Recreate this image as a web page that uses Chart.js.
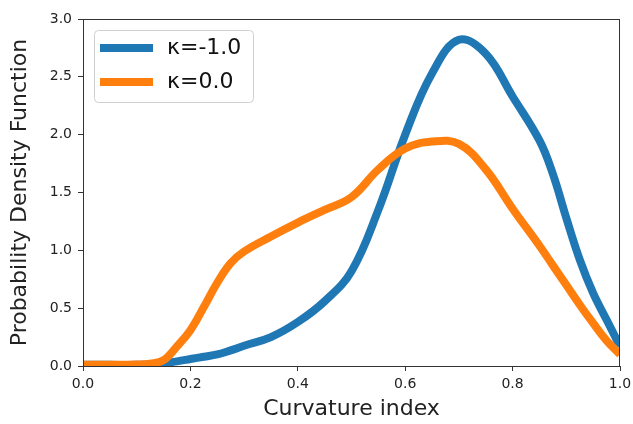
<!DOCTYPE html>
<html>
<head>
<meta charset="utf-8">
<script src="https://cdn.jsdelivr.net/npm/chart.js@4"></script>
<style>
  body { margin: 0; background: #fff; }
</style>
</head>
<body>
<canvas id="pdfChart" width="633" height="424"></canvas>
<script>
// curvature index samples
const curvatureIndex = [0, 0.05, 0.1, 0.125, 0.15, 0.175, 0.2, 0.225, 0.25, 0.275, 0.3, 0.35, 0.4, 0.45, 0.5,
    0.55, 0.6, 0.65, 0.7, 0.75, 0.8, 0.85, 0.875, 0.9, 0.925, 0.95, 0.975, 1.0];
const pdfKappaMinus1 = [0.01, 0.01, 0.01, 0.015, 0.025, 0.04, 0.06, 0.08, 0.1, 0.135, 0.175, 0.25, 0.38, 0.56, 0.82,
    1.35, 2.0, 2.53, 2.82, 2.7, 2.33, 1.95, 1.66, 1.28, 0.92, 0.63, 0.4, 0.17];
const pdfKappa0 = [0.01, 0.01, 0.012, 0.02, 0.05, 0.17, 0.31, 0.51, 0.72, 0.89, 0.99, 1.12, 1.24, 1.35, 1.46,
    1.7, 1.88, 1.94, 1.92, 1.7, 1.36, 1.04, 0.87, 0.7, 0.53, 0.37, 0.22, 0.1];
const seriesLabels = ['κ=-1.0', 'κ=0.0'];
const xTicks = [0, 0.2, 0.4, 0.6, 0.8, 1.0];
const yTicks = [0, 0.5, 1.0, 1.5, 2.0, 2.5, 3.0];

Chart.defaults.font.family = "'DejaVu Sans', sans-serif";
Chart.defaults.color = '#222';

function points(ys) {
    return curvatureIndex.map((x, i) => ({ x: x, y: ys[i] }));
}

// frame round the axes plus a matplotlib style legend box
const framePlugin = {
    id: 'frame',
    afterDatasetsDraw(chart) {
        const c = chart.ctx;
        const a = chart.chartArea;
        c.save();
        c.strokeStyle = '#333';
        c.lineWidth = 1;
        c.strokeRect(Math.round(a.left) + 0.5, Math.round(a.top) + 0.5,
            Math.round(a.right - a.left) - 1, Math.round(a.bottom - a.top));

        // legend
        const bx = a.left + 11, by = a.top + 11, bw = 159, bh = 72, r = 4;
        c.beginPath();
        c.roundRect(bx + 0.5, by + 0.5, bw, bh, r);
        c.fillStyle = 'rgba(255,255,255,0.8)';
        c.fill();
        c.strokeStyle = '#d0d0d0';
        c.stroke();
        chart.data.datasets.forEach((ds, i) => {
            const cy = by + 18 + i * 34;
            c.beginPath();
            c.moveTo(bx + 6, cy);
            c.lineTo(bx + 59, cy);
            c.strokeStyle = ds.borderColor;
            c.lineWidth = 8;
            c.lineCap = 'butt';
            c.stroke();
            c.fillStyle = '#111';
            c.font = "22px 'DejaVu Sans'";
            c.textBaseline = 'middle';
            c.fillText(ds.label, bx + 73, cy);
        });
        c.restore();
    }
};

function noOverhang(scale) {
    scale.paddingLeft = 0;
    scale.paddingRight = 0;
    scale.paddingTop = 0;
    scale.paddingBottom = 0;
}

const ctx = document.getElementById('pdfChart').getContext('2d');
const pdfChart = new Chart(ctx, {
    type: 'line',
    data: {
        datasets: [{
            label: seriesLabels[0],
            data: points(pdfKappaMinus1),
            borderColor: '#1f77b4',
            borderWidth: 8,
            pointRadius: 0,
            tension: 0.4,
            borderJoinStyle: 'round',
            clip: 0,
            order: 1
        }, {
            label: seriesLabels[1],
            data: points(pdfKappa0),
            borderColor: '#ff7f0e',
            borderWidth: 8,
            pointRadius: 0,
            tension: 0.4,
            borderJoinStyle: 'round',
            clip: 0,
            order: 0
        }]
    },
    options: {
        responsive: false,
        animation: false,
        layout: { padding: { top: 19, right: 13, left: 0, bottom: 0 } },
        plugins: {
            legend: { display: false },
            tooltip: { enabled: false }
        },
        scales: {
            x: {
                type: 'linear',
                min: 0,
                max: 1,
                afterFit: function(scale) { scale.height = 58; noOverhang(scale); },
                afterBuildTicks: function(scale) { scale.ticks = xTicks.map(v => ({ value: v })); },
                ticks: {
                    font: { size: 14 },
                    padding: 5,
                    maxRotation: 0,
                    callback: function(value) { return value.toFixed(1); }
                },
                grid: { drawOnChartArea: false, tickLength: 5, tickColor: '#333' },
                border: { display: false },
                title: {
                    display: true,
                    text: 'Curvature index',
                    font: { size: 22 },
                    padding: { top: 0, bottom: 2 }
                }
            },
            y: {
                type: 'linear',
                min: 0,
                max: 3,
                afterFit: function(scale) { scale.width = 83; noOverhang(scale); },
                afterBuildTicks: function(scale) { scale.ticks = yTicks.map(v => ({ value: v })); },
                ticks: {
                    font: { size: 14 },
                    padding: 6,
                    callback: function(value) { return value.toFixed(1); }
                },
                grid: { drawOnChartArea: false, tickLength: 5, tickColor: '#333' },
                border: { display: false },
                title: {
                    display: true,
                    text: 'Probability Density Function',
                    font: { size: 22 },
                    padding: { top: 7, bottom: 0 }
                }
            }
        }
    },
    plugins: [framePlugin]
});
</script>
</body>
</html>
